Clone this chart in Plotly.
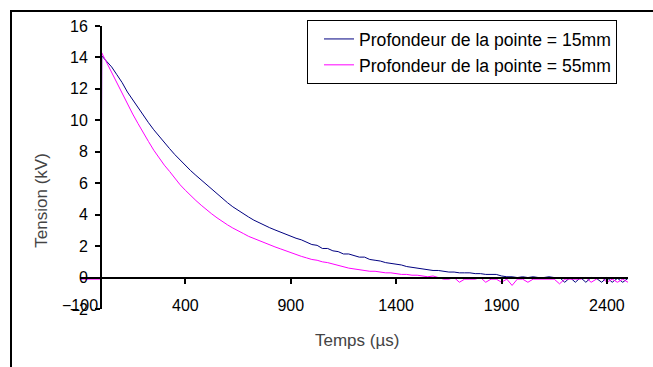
import plotly.graph_objects as go

# Sampling instants (µs): pre-trigger, trigger edge, then 25 µs steps
t_pre = [-100, -50, 0]
t_edge = [3]
t_main = [25, 50, 75, 100, 125, 150, 175, 200, 225, 250,
          275, 300, 325, 350, 375, 400, 425, 450, 475, 500,
          525, 550, 575, 600, 625, 650, 675, 700, 725, 750,
          775, 800, 825, 850, 875, 900, 925, 950, 975, 1000,
          1025, 1050, 1075, 1100, 1125, 1150, 1175, 1200, 1225, 1250,
          1275, 1300, 1325, 1350, 1375, 1400, 1425, 1450, 1475, 1500,
          1525, 1550, 1575, 1600, 1625, 1650, 1675, 1700, 1725, 1750,
          1775, 1800, 1825, 1850, 1875, 1900, 1925, 1950, 1975, 2000,
          2025, 2050, 2075, 2100, 2125, 2150, 2175, 2200, 2225, 2250,
          2275, 2300, 2325, 2350, 2375, 2400, 2425, 2450, 2475, 2500]

# Tension (kV) - tip depth 15 mm
v15_pre = [0.0, 0.0, 0.0]
v15_edge = [14.1]
v15_main = [13.8, 13.4, 12.9, 12.4, 11.8, 11.3, 10.8, 10.3, 9.85, 9.4,
            8.98, 8.58, 8.2, 7.82, 7.46, 7.12, 6.8, 6.5, 6.2, 5.9,
            5.6, 5.3, 5.02, 4.76, 4.5, 4.27, 4.05, 3.85, 3.65, 3.48,
            3.32, 3.17, 3.03, 2.9, 2.75, 2.6, 2.5, 2.4, 2.25, 2.1,
            2.05, 1.85, 1.85, 1.7, 1.65, 1.5, 1.5, 1.4, 1.3, 1.3,
            1.15, 1.1, 1.05, 0.95, 0.9, 0.85, 0.8, 0.7, 0.65, 0.6,
            0.55, 0.5, 0.45, 0.45, 0.4, 0.35, 0.35, 0.3, 0.3, 0.3,
            0.25, 0.25, 0.2, 0.2, 0.2, 0.1, 0.05, 0.05, 0.0, 0.05,
            0.0, 0.05, 0.0, 0.0, 0.05, 0.0, 0.0, -0.3, 0.0, -0.3,
            0.0, -0.3, 0.0, -0.05, -0.3, 0.0, -0.3, -0.05, -0.3, -0.05]

# Tension (kV) - tip depth 55 mm
v55_pre = [-0.1, -0.1, -0.1]
v55_edge = [14.3]
v55_main = [13.7, 13.1, 12.4, 11.7, 11.0, 10.4, 9.8, 9.2, 8.65, 8.1,
            7.6, 7.15, 6.75, 6.3, 5.9, 5.55, 5.2, 4.9, 4.6, 4.3,
            4.05, 3.8, 3.55, 3.35, 3.15, 2.95, 2.8, 2.62, 2.48, 2.33,
            2.2, 2.07, 1.95, 1.83, 1.7, 1.58, 1.45, 1.35, 1.25, 1.15,
            1.1, 1.0, 0.95, 0.85, 0.75, 0.7, 0.6, 0.55, 0.5, 0.45,
            0.4, 0.4, 0.35, 0.3, 0.3, 0.25, 0.2, 0.2, 0.15, 0.15,
            0.1, 0.05, 0.1, 0.0, -0.1, -0.1, 0.0, -0.3, -0.1, -0.1,
            -0.1, 0.0, -0.3, -0.1, -0.1, -0.3, -0.1, -0.5, -0.1, -0.1,
            -0.3, -0.1, -0.1, -0.1, -0.1, -0.1, -0.4, -0.1, -0.1, -0.1,
            -0.1, 0.0, -0.3, -0.1, 0.0, -0.3, -0.1, -0.3, -0.1, -0.3]

x_ticks = [-100, 400, 900, 1400, 1900, 2400]
y_ticks = [-2, 0, 2, 4, 6, 8, 10, 12, 14, 16]
x_range = [-100, 2500]
y_range = [-2, 16]

label_15 = "Profondeur de la pointe = 15mm"
label_55 = "Profondeur de la pointe = 55mm"

FONT = "Liberation Sans, Arial, sans-serif"

t_all = t_pre + t_edge + t_main

fig = go.Figure()
fig.add_trace(go.Scatter(x=t_all, y=v15_pre + v15_edge + v15_main, mode="lines",
                         line=dict(color="#000080", width=1),
                         name=label_15, legendgroup="a"))
fig.add_trace(go.Scatter(x=t_all, y=v55_pre + v55_edge + v55_main, mode="lines",
                         line=dict(color="#FF00FF", width=1),
                         name=label_55, legendgroup="b"))

W, H = 653, 367
ML, MR, MT, MB = 80, 25, 26, 57.5
plot_w = W - ML - MR
plot_h = H - MT - MB


def px_x(p):
    return (p - ML) / plot_w


def px_y(p):
    return (H - MB - p) / plot_h


y0_frac = (0 - y_range[0]) / (y_range[1] - y_range[0])
x0_frac = (0 - x_range[0]) / (x_range[1] - x_range[0])

fig.update_layout(
    width=W, height=H,
    margin=dict(l=ML, r=MR, t=MT, b=MB),
    paper_bgcolor="white", plot_bgcolor="white",
    font=dict(family=FONT, color="black", size=16),
    xaxis=dict(range=x_range, tickvals=x_ticks, ticks="", showline=False,
               showgrid=False, zeroline=False, anchor="free", position=0.053,
               tickfont=dict(size=16)),
    xaxis2=dict(range=x_range, overlaying="x", matches="x", anchor="free",
                position=y0_frac, tickvals=x_ticks[1:], ticks="outside",
                ticklen=5, tickwidth=2, tickcolor="black", showticklabels=False,
                showline=True, linecolor="black", linewidth=2,
                showgrid=False, zeroline=False),
    yaxis=dict(range=y_range, tickvals=y_ticks, ticks="outside", ticklen=5,
               tickwidth=2, tickcolor="black", showline=True, linecolor="black",
               linewidth=2, showgrid=False, zeroline=False, anchor="free",
               position=x0_frac, ticklabelstandoff=4, tickfont=dict(size=16)),
    showlegend=True,
    legend=dict(x=px_x(307), y=px_y(20), xanchor="left", yanchor="top",
                bgcolor="white", bordercolor="black", borderwidth=1,
                font=dict(size=17.6, family=FONT), traceorder="grouped",
                tracegroupgap=0, indentation=11),
    annotations=[
        dict(text="Tension (kV)", x=px_x(42), y=px_y(201), xref="paper",
             yref="paper", xanchor="center", yanchor="middle",
             showarrow=False, textangle=-90,
             font=dict(size=17, color="#444444", family=FONT)),
        dict(text="Temps (µs)", x=px_x(357), y=px_y(341), xref="paper",
             yref="paper", xanchor="center", yanchor="middle",
             showarrow=False,
             font=dict(size=17, color="#444444", family=FONT)),
    ],
    shapes=[
        dict(type="rect", xref="paper", yref="paper",
             x0=px_x(11), x1=px_x(700), y0=px_y(400), y1=px_y(11),
             line=dict(color="black", width=2), fillcolor="rgba(0,0,0,0)",
             layer="below"),
    ],
)

# invisible trace to bring the overlaid tick axis to life
fig.add_trace(go.Scatter(x=[None], y=[None], xaxis="x2", showlegend=False,
                         hoverinfo="skip"))

fig.write_html("out.html")
